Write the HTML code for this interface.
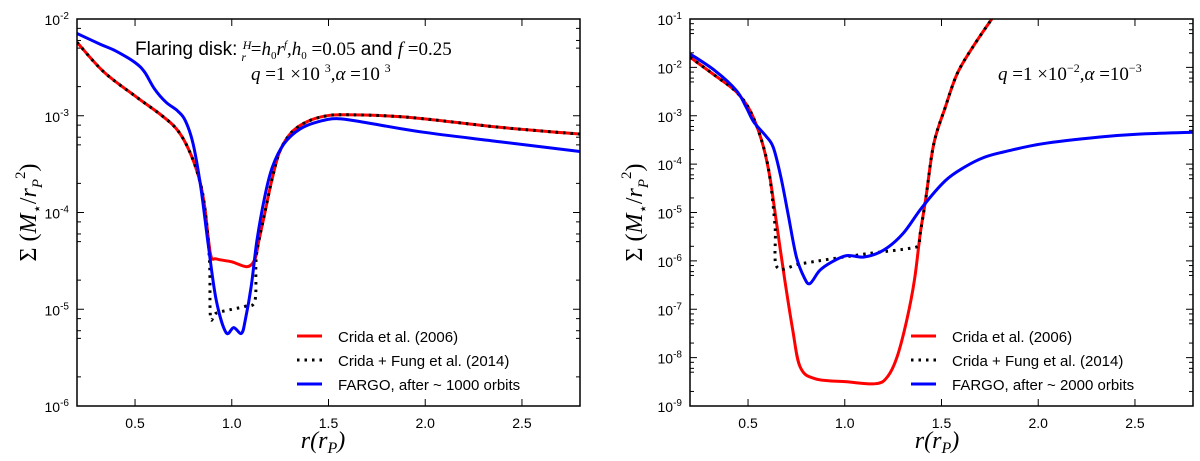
<!DOCTYPE html>
<html><head><meta charset="utf-8"><style>
body{margin:0;background:#fff;}
svg{display:block;font-family:"Liberation Sans",sans-serif;}
.tk{font-size:14px;}
.math{font-family:"Liberation Serif",serif;font-style:italic;}
</style></head><body>
<svg id="fig" width="1200" height="461" viewBox="0 0 1200 461"></svg>
<script>
// ---- Left panel data (r in r_P, log10 Sigma) ----
const leftRedR = [0.2,0.34,0.51,0.64,0.72,0.78,0.83,0.86,0.89,0.92,1.0,1.08,1.12,1.14,1.17,1.21,1.25,1.31,1.39,1.49,1.59,1.79,1.99,2.39,2.8];
const leftRedLog = [-2.24,-2.55,-2.81,-3.0,-3.15,-3.36,-3.64,-3.94,-4.43,-4.48,-4.51,-4.56,-4.48,-4.29,-4.01,-3.64,-3.36,-3.17,-3.06,-3.0,-2.99,-3.0,-3.03,-3.12,-3.19];
const leftDotR = [0.2,0.34,0.51,0.64,0.72,0.78,0.83,0.86,0.885,0.89,0.92,1.0,1.07,1.12,1.125,1.14,1.17,1.21,1.25,1.31,1.39,1.49,1.59,1.79,1.99,2.39,2.8];
const leftDotLog = [-2.24,-2.55,-2.81,-3.0,-3.15,-3.36,-3.64,-3.94,-4.5,-5.08,-5.04,-5.0,-4.97,-4.91,-4.5,-4.29,-4.01,-3.64,-3.36,-3.17,-3.06,-3.0,-2.99,-3.0,-3.03,-3.12,-3.19];
const leftBlueR = [0.2,0.32,0.4,0.5,0.55,0.6,0.66,0.72,0.76,0.8,0.84,0.88,0.92,0.97,1.01,1.05,1.07,1.1,1.13,1.17,1.21,1.27,1.35,1.45,1.55,1.69,1.99,2.39,2.8];
const leftBlueLog = [-2.15,-2.26,-2.33,-2.45,-2.55,-2.72,-2.86,-2.95,-3.05,-3.29,-3.74,-4.36,-4.91,-5.24,-5.19,-5.25,-5.11,-4.77,-4.29,-3.84,-3.53,-3.29,-3.14,-3.06,-3.03,-3.07,-3.17,-3.27,-3.37];
// ---- Right panel data ----
const rightRedR = [0.2,0.33,0.44,0.51,0.57,0.61,0.65,0.69,0.73,0.77,0.85,1.01,1.16,1.22,1.27,1.32,1.36,1.39,1.42,1.46,1.52,1.58,1.66,1.76,1.8];
const rightRedLog = [-1.79,-2.17,-2.51,-2.89,-3.51,-4.2,-5.3,-6.4,-7.4,-8.2,-8.44,-8.5,-8.54,-8.4,-7.99,-7.23,-6.4,-5.44,-4.68,-3.58,-2.82,-2.14,-1.59,-1.0,-0.8];
const rightDotR = [0.2,0.33,0.44,0.51,0.57,0.61,0.64,0.65,0.77,0.93,1.12,1.32,1.38,1.39,1.42,1.46,1.52,1.58,1.66,1.76,1.8];
const rightDotLog = [-1.79,-2.17,-2.51,-2.89,-3.51,-4.2,-5.3,-6.13,-6.06,-5.96,-5.85,-5.75,-5.68,-5.44,-4.68,-3.58,-2.82,-2.14,-1.59,-1.0,-0.8];
const rightBlueR = [0.2,0.33,0.44,0.49,0.53,0.59,0.63,0.67,0.71,0.75,0.79,0.82,0.87,0.93,1.01,1.1,1.2,1.3,1.4,1.52,1.62,1.72,1.82,2.02,2.32,2.52,2.8];
const rightBlueLog = [-1.72,-2.07,-2.48,-2.82,-3.13,-3.41,-3.65,-4.27,-5.1,-5.92,-6.34,-6.47,-6.2,-6.03,-5.89,-5.92,-5.78,-5.44,-4.89,-4.34,-4.06,-3.86,-3.75,-3.58,-3.44,-3.38,-3.34];
const xTicks = [0.5,1.0,1.5,2.0,2.5];
const xTickLabels = ["0.5","1.0","1.5","2.0","2.5"];
const leftDecades = [-2,-3,-4,-5,-6];
const rightDecades = [-1,-2,-3,-4,-5,-6,-7,-8,-9];

const NS="http://www.w3.org/2000/svg";
const svg=document.getElementById('fig');
function mk(tag,attrs,parent){const e=document.createElementNS(NS,tag);for(const k in attrs)e.setAttribute(k,attrs[k]);(parent||svg).appendChild(e);return e;}
function smooth(pts){
  let d='M'+pts[0][0].toFixed(1)+','+pts[0][1].toFixed(1);
  for(let i=0;i<pts.length-1;i++){
    const p0=pts[i-1]||pts[i],p1=pts[i],p2=pts[i+1],p3=pts[i+2]||p2;
    const c1=[p1[0]+(p2[0]-p0[0])/6,p1[1]+(p2[1]-p0[1])/6];
    const c2=[p2[0]-(p3[0]-p1[0])/6,p2[1]-(p3[1]-p1[1])/6];
    d+=' C'+c1[0].toFixed(1)+','+c1[1].toFixed(1)+' '+c2[0].toFixed(1)+','+c2[1].toFixed(1)+' '+p2[0].toFixed(1)+','+p2[1].toFixed(1);
  }
  return d;
}

function panel(id,L,R,T,B,logTop,logBot,decades,series,fargoLabel,legendX,labelX,labelCx){
  const g=mk('g',{});
  
  
  const xs=r=>L+(r-0.2)/(2.8-0.2)*(R-L);
  const ys=l=>T+(logTop-l)/(logTop-logBot)*(B-T);
  const clip=mk('clipPath',{id:id+'clip'},g);
  mk('rect',{x:L,y:T,width:R-L,height:B-T},clip);
  xTicks.forEach((t,i)=>{
    const x=xs(t);
    mk('line',{x1:x,x2:x,y1:B,y2:B-7,stroke:'#000','stroke-width':1},g);
    mk('line',{x1:x,x2:x,y1:T,y2:T+7,stroke:'#000','stroke-width':1},g);
    const tx=mk('text',{x:x,y:B+22,'text-anchor':'middle',class:'tk'},g);
    tx.textContent=xTickLabels[i];
    
    
  });
  decades.forEach(d=>{
    const y=ys(d);
    mk('line',{x1:L,x2:L+7,y1:y,y2:y,stroke:'#000'},g);
    mk('line',{x1:R,x2:R-7,y1:y,y2:y,stroke:'#000'},g);
    [2,5,6,8].forEach(s=>{const lv=d+Math.log10(s);if(lv<logTop){const yy=ys(lv);
      mk('line',{x1:L,x2:L+4,y1:yy,y2:yy,stroke:'#000'},g);mk('line',{x1:R,x2:R-4,y1:yy,y2:yy,stroke:'#000'},g);}});
    const tx=mk('text',{x:L-8,y:y+6,'text-anchor':'end',class:'tk'},g);
    
    
    tx.appendChild(document.createTextNode('10'));
    const sp=mk('tspan',{dy:-6,'font-size':'10px'},tx);sp.textContent=String(d);
  });
  series.forEach(s=>{
    const pts=s.r.map((r,i)=>[xs(r),ys(s.l[i])]);
    const p=mk('path',{d:smooth(pts),fill:'none',stroke:s.c,'stroke-width':3,'stroke-linejoin':'round','clip-path':'url(#'+id+'clip)'},g);
    if(s.dash){p.setAttribute('stroke-dasharray','2.5,5');}
    
    
  });
  mk('rect',{x:L,y:T,width:R-L,height:B-T,fill:'none',stroke:'#000','stroke-width':1.5},g);
  const lg=mk('g',{},g);
  
  
  const labels=['Crida et al. (2006)','Crida + Fung et al. (2014)',fargoLabel];
  [['#ff0000',false],['#000',true],['#0000ff',false]].forEach((c,i)=>{
    const y=336+i*24;
    const ln=mk('line',{x1:legendX,x2:legendX+25,y1:y,y2:y,stroke:c[0],'stroke-width':3},lg);
    if(c[1])ln.setAttribute('stroke-dasharray','2.5,5');
    const t=mk('text',{x:legendX+41,y:y+6,'font-size':'15px'},lg);
    t.textContent=labels[i];
    
    
  });
  const xl=mk('text',{x:labelCx,y:448,'text-anchor':'middle','font-size':'24px',class:'math'},g);
  
  
  xl.innerHTML='r(r<tspan dy="5" font-size="16">P</tspan><tspan dy="-5">)</tspan>';
  const yl=mk('text',{x:0,y:0,'text-anchor':'middle','font-size':'24px',transform:'translate('+labelX+','+(T+B)/2+') rotate(-90)','font-family':'"Liberation Serif",serif'},g);
  
  
  yl.innerHTML='Σ (<tspan font-style="italic">M</tspan><tspan dy="6" font-size="15">⋆</tspan><tspan dy="-6">/</tspan><tspan font-style="italic">r</tspan><tspan dy="6" font-size="15" font-style="italic">P</tspan><tspan dy="-17" font-size="15">2</tspan><tspan dy="11">)</tspan>';
  return g;
}
const left=[{r:leftRedR,l:leftRedLog,c:'#ff0000',name:'crida-2006-line'},{r:leftDotR,l:leftDotLog,c:'#000',dash:true,name:'crida-fung-line'},{r:leftBlueR,l:leftBlueLog,c:'#0000ff',name:'fargo-line'}];
panel('left',77,580,19,406,-2,-6,leftDecades,left,'FARGO, after ~ 1000 orbits',297,36,323);
const right=[{r:rightRedR,l:rightRedLog,c:'#ff0000',name:'crida-2006-line'},{r:rightDotR,l:rightDotLog,c:'#000',dash:true,name:'crida-fung-line'},{r:rightBlueR,l:rightBlueLog,c:'#0000ff',name:'fargo-line'}];
panel('right',690,1193,19,406,-1,-9,rightDecades,right,'FARGO, after ~ 2000 orbits',911,642,937);
</script>
<svg style="position:absolute;left:0;top:0" width="1200" height="461">
  <text x="135" y="55" font-size="19" font-family="Liberation Sans, sans-serif">Flaring disk: <tspan font-family="Liberation Serif, serif" font-style="italic" font-size="12" dy="-6">H</tspan><tspan font-family="Liberation Serif, serif" font-style="italic" font-size="12" dx="-10" dy="12">r</tspan><tspan font-family="Liberation Serif, serif" dy="-6"> =<tspan font-style="italic">h</tspan><tspan font-size="11" dy="4">0</tspan><tspan font-style="italic" dy="-4">r</tspan><tspan font-size="11" font-style="italic" dy="-7">f</tspan><tspan dy="7">,</tspan><tspan font-style="italic">h</tspan><tspan font-size="11" dy="4">0</tspan><tspan dy="-4"> =0.05</tspan></tspan> and <tspan font-family="Liberation Serif, serif"><tspan font-style="italic">f</tspan> =0.25</tspan></text>
  <text x="251" y="80" font-size="19" font-family="Liberation Serif, serif"><tspan font-style="italic">q</tspan> =1 ×10 <tspan font-size="12" dy="-8">3</tspan><tspan dy="8">,</tspan><tspan font-style="italic">α</tspan> =10 <tspan font-size="12" dy="-8">3</tspan></text>
  <text x="998" y="80" font-size="19" font-family="Liberation Serif, serif"><tspan font-style="italic">q</tspan> =1 ×10<tspan font-size="12" dy="-8">−2</tspan><tspan dy="8">,</tspan><tspan font-style="italic">α</tspan> =10<tspan font-size="12" dy="-8">−3</tspan></text>
</svg>
</body></html>
